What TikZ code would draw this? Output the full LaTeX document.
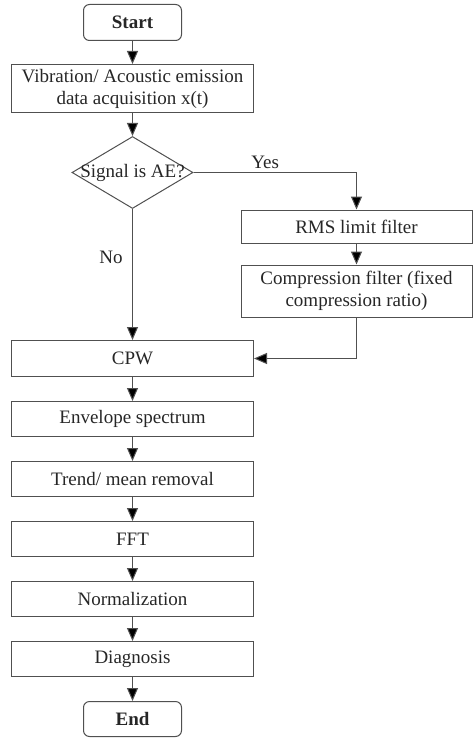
\documentclass[tikz,border=0pt]{standalone}
\usepackage{fontspec}
\setmainfont{Liberation Serif}
\usetikzlibrary{shapes.geometric, arrows.meta, positioning}
\definecolor{linegray}{HTML}{505050}
\definecolor{textgray}{HTML}{262626}

\begin{document}
\begin{tikzpicture}[
    x=1pt, y=1pt,
    node distance=24pt,
    every node/.style={font=\fontsize{19}{22}\selectfont, text=textgray},
    terminal/.style={rectangle, draw=linegray, line width=1pt, rounded corners=6pt,
                     minimum width=98pt, minimum height=36pt, inner sep=2pt},
    process/.style={rectangle, draw=linegray, line width=1pt, minimum width=242pt,
                    minimum height=35pt, inner sep=2pt, align=center},
    sidebox/.style={process, minimum width=231pt},
    decision/.style={diamond, draw=linegray, line width=1pt, minimum width=121pt,
                     minimum height=72pt, inner sep=0pt},
    flow/.style={-{Triangle[length=13pt, width=11pt, fill=black]}, draw=linegray, line width=1pt},
]
    \useasboundingbox (0,0) rectangle (473,-738);

    % Start
    \node[terminal] (start) at (132.5,-22.5) {\textbf{Start}};

    % Acquisition
    \node[process, minimum height=48pt, below=23pt of start] (acq) {
        Vibration/ Acoustic emission\\
        data acquisition x(t)
    };

    % Decision
    \node[decision, below=23pt of acq] (isae) {\makebox[0pt]{Signal is AE?}};

    % AE branch
    \node[sidebox, minimum height=33pt] (rms) at (356.5,-226.5) {RMS limit filter};
    \node[sidebox, minimum height=52pt, below=21pt of rms] (comp) {
        Compression filter (fixed\\
        compression ratio)
    };

    % Main chain
    \node[process, minimum height=36pt, below=131pt of isae] (cpw) {CPW};
    \node[process, below=of cpw] (env) {Envelope spectrum};
    \node[process, below=of env] (trend) {Trend/ mean removal};
    \node[process, below=of trend] (fft) {FFT};
    \node[process, below=of fft] (norm) {Normalization};
    \node[process, below=of norm] (diag) {Diagnosis};

    % End
    \node[terminal, minimum height=35pt, below=of diag] (end) {\textbf{End}};

    % Connections
    \draw[flow] (start) -- (acq);
    \draw[flow] (acq) -- (isae);
    \draw[flow] (isae.east) -| node[above, pos=0.22]{Yes} (rms.north);
    \draw[flow] (isae.south) -- node[left, pos=0.37, xshift=-6pt]{No} (cpw.north);
    \draw[flow] (rms) -- (comp);
    \draw[flow] (comp.south) |- (cpw.east);
    \draw[flow] (cpw) -- (env);
    \draw[flow] (env) -- (trend);
    \draw[flow] (trend) -- (fft);
    \draw[flow] (fft) -- (norm);
    \draw[flow] (norm) -- (diag);
    \draw[flow] (diag) -- (end);

\end{tikzpicture}
\end{document}
